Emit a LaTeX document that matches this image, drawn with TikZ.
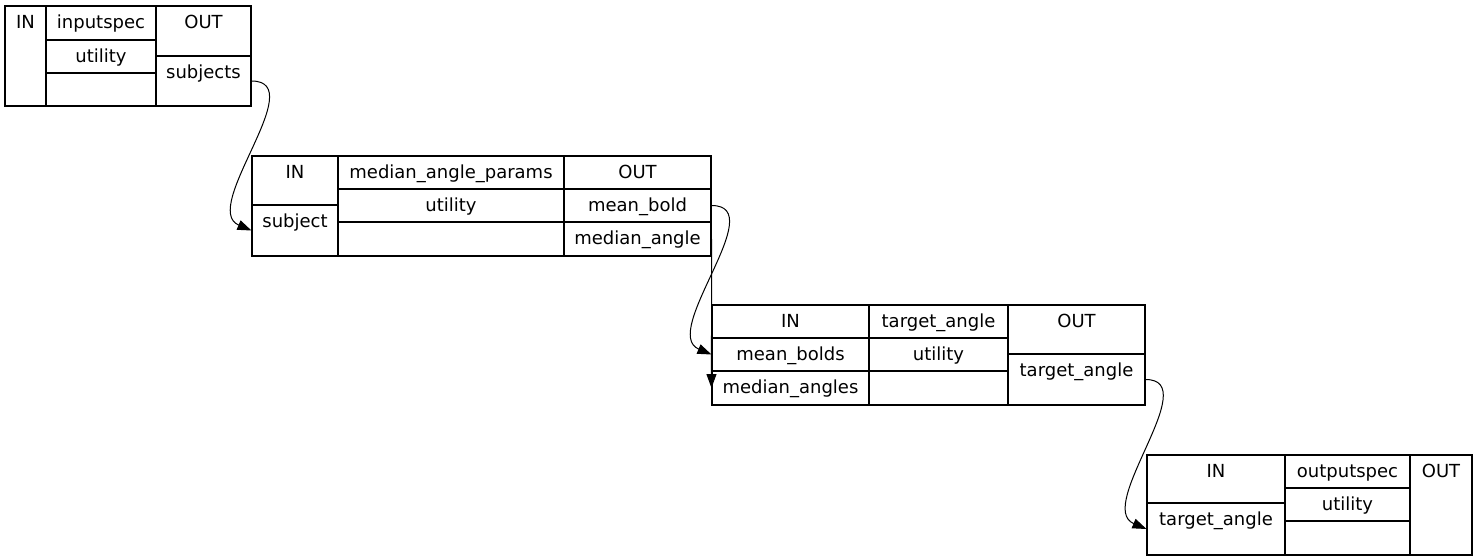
\documentclass[tikz,border=0pt]{standalone}
\usepackage{fontspec}
\setmainfont{DejaVu Sans}
\usetikzlibrary{fit,arrows.meta}
\tikzset{
  cellbox/.style={draw=black, line width=0.8pt, inner sep=0pt},
  celltext/.style={anchor=base, inner sep=0pt, font=\fontsize{13.5pt}{16pt}\selectfont},
  edge/.style={draw=black, line width=0.75pt, -{Triangle[length=10.5pt,width=7.5pt]}}
}
\newcommand\mycell[6]{%
  \coordinate (tmpa) at (#2,#3);
  \coordinate (tmpb) at (#4,#5);
  \node[cellbox, fit=(tmpa)(tmpb)] (#1) {};
  \node[celltext] (#1t) at ([yshift=-17.6pt]#1.north) {#6};
}
\begin{document}
\begin{tikzpicture}[x=0.75pt,y=-0.75pt]
\useasboundingbox (0,0) rectangle (1477,560);
% node 1
\mycell{n1in}{5}{6}{46}{106}{IN}
\mycell{n1spec}{46}{6}{156}{40}{inputspec}
\mycell{n1util}{46}{40}{156}{73}{utility}
\mycell{n1empty}{46}{73}{156}{106}{}
\mycell{n1out}{156}{6}{251}{56}{OUT}
\mycell{n1subj}{156}{56}{251}{106}{subjects}
% node 2
\mycell{n2in}{252}{156}{338}{205}{IN}
\mycell{n2subj}{252}{205}{338}{256}{subject}
\mycell{n2name}{338}{156}{564}{189}{median\_angle\_params}
\mycell{n2util}{338}{189}{564}{222}{utility}
\mycell{n2empty}{338}{222}{564}{256}{}
\mycell{n2out}{564}{156}{711}{189}{OUT}
\mycell{n2mb}{564}{189}{711}{222}{mean\_bold}
\mycell{n2ma}{564}{222}{711}{256}{median\_angle}
% node 3
\mycell{n3in}{712}{305}{869}{338}{IN}
\mycell{n3mb}{712}{338}{869}{371}{mean\_bolds}
\mycell{n3ma}{712}{371}{869}{405}{median\_angles}
\mycell{n3name}{869}{305}{1008}{338}{target\_angle}
\mycell{n3util}{869}{338}{1008}{371}{utility}
\mycell{n3empty}{869}{371}{1008}{405}{}
\mycell{n3out}{1008}{305}{1145}{354}{OUT}
\mycell{n3tgt}{1008}{354}{1145}{405}{target\_angle}
% node 4
\mycell{n4in}{1147}{455}{1285}{503}{IN}
\mycell{n4tgt}{1147}{503}{1285}{555}{target\_angle}
\mycell{n4name}{1285}{455}{1410}{488}{outputspec}
\mycell{n4util}{1285}{488}{1410}{521}{utility}
\mycell{n4empty}{1285}{521}{1410}{555}{}
\mycell{n4out}{1410}{455}{1472}{555}{OUT}
% edges
\draw[edge] (n1subj.east) .. controls +(60,0) and +(-52,-22) .. (n2subj.west);
\draw[edge] (n2mb.east) .. controls +(60,0) and +(-52,-22) .. (n3mb.west);
\draw[edge] (n2ma.east) -- (n3ma.west);
\draw[edge] (n3tgt.east) .. controls +(59,0) and +(-52,-22) .. (n4tgt.west);
\end{tikzpicture}
\end{document}
